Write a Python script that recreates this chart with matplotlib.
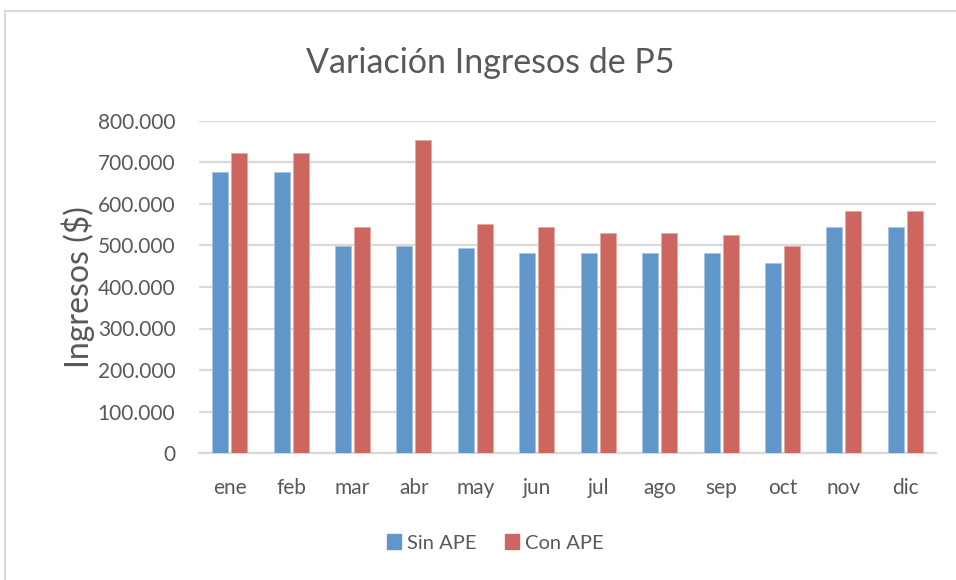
import matplotlib
matplotlib.use("Agg")
import matplotlib.pyplot as plt
import numpy as np
from matplotlib.lines import Line2D
from matplotlib.ticker import FuncFormatter

plt.rcParams['font.family'] = ['Lato', 'DejaVu Sans']

months = ["ene", "feb", "mar", "abr", "may", "jun", "jul", "ago", "sep", "oct", "nov", "dic"]
sin_ape = [678000, 678000, 499000, 499000, 493000, 481000, 481000, 481000, 481000, 458000, 544000, 544000]
con_ape = [723000, 723000, 544000, 755000, 551000, 544000, 531000, 531000, 525000, 499000, 582000, 582000]
y_ticks = [0, 100000, 200000, 300000, 400000, 500000, 600000, 700000, 800000]

blue = '#6096C9'
red = '#CD665F'
txt = '#595959'
grid = '#D9D9D9'

fig = plt.figure(figsize=(9.56, 5.8), dpi=100)
ax = fig.add_axes([199/956, 1 - 453/580, (936-199)/956, (453-121)/580])

x = np.arange(len(months))
w = 0.26
off = 0.155
ax.bar(x - off, sin_ape, width=w, color=blue, edgecolor='#A9C4E4', linewidth=0.6, label='Sin APE', zorder=3)
ax.bar(x + off, con_ape, width=w, color=red, edgecolor='#E4A9A5', linewidth=0.6, label='Con APE', zorder=3)

ax.set_xlim(-0.5, len(months) - 0.5)
ax.set_ylim(0, 800000)
ax.set_yticks(y_ticks)
ax.yaxis.set_major_formatter(FuncFormatter(lambda v, p: f"{int(v):,}".replace(",", ".")))
ax.set_xticks(x)
ax.set_xticklabels(months)
ax.grid(axis='y', color=grid, linewidth=1.6, zorder=0)
for s in ['top', 'right', 'left']:
    ax.spines[s].set_visible(False)
ax.spines['bottom'].set_color(grid)
ax.spines['bottom'].set_linewidth(1.6)
ax.tick_params(axis='both', length=0, labelsize=15, colors=txt)
ax.tick_params(axis='x', pad=18)
ax.tick_params(axis='y', pad=17)

ax.set_ylabel("Ingresos ($)", fontsize=23, color=txt, labelpad=2)
fig.text(490/956, 1 - 63/580, "Variación Ingresos de P5", fontsize=24.5, color=txt, ha='center', va='center')

fig.legend(handles=[plt.Rectangle((0, 0), 1, 1, color=blue), plt.Rectangle((0, 0), 1, 1, color=red)],
           labels=['Sin APE', 'Con APE'], loc='center', bbox_to_anchor=(495/956, 1 - 543/580),
           ncol=2, frameon=False, fontsize=14.5, labelcolor=txt, handlelength=0.7, handleheight=0.7,
           handletextpad=0.3, columnspacing=1.4)

# outer chart border
fig.add_artist(Line2D([5/956, 1], [1 - 11/580, 1 - 11/580], color='#D9D9D9', linewidth=1.5))
fig.add_artist(Line2D([5/956, 5/956], [0, 1 - 11/580], color='#D9D9D9', linewidth=1.5))

fig.savefig("out.png", dpi=100, facecolor='white')
